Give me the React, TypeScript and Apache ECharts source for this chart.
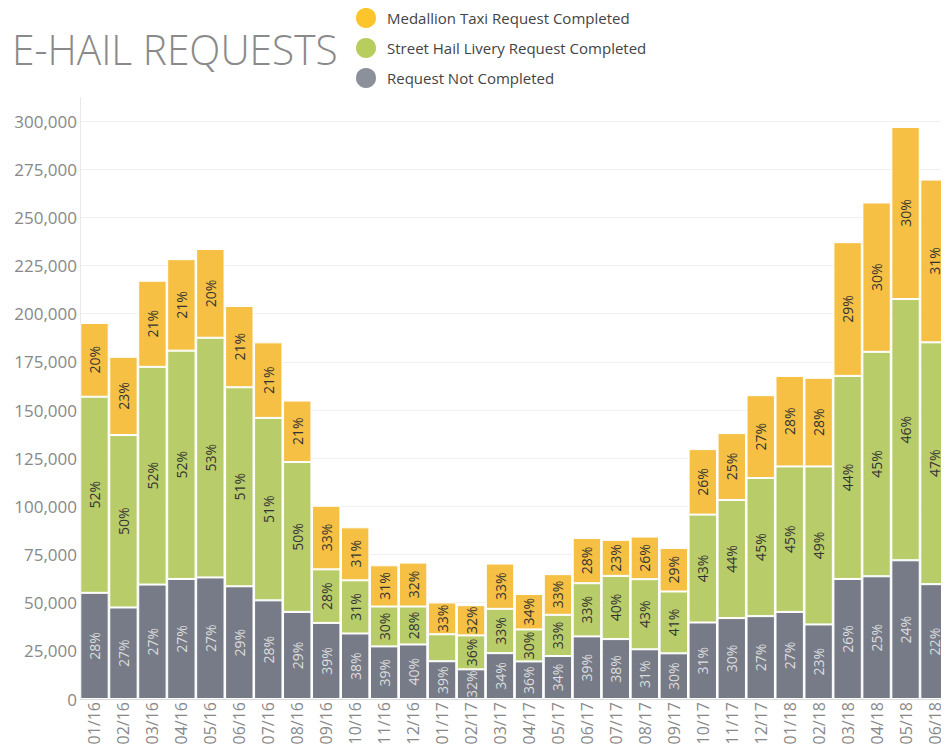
import React, { useEffect, useRef } from "react";
import * as echarts from "echarts";

const months = [
  "01/16", "02/16", "03/16", "04/16", "05/16", "06/16", "07/16", "08/16", "09/16", "10/16",
  "11/16", "12/16", "01/17", "02/17", "03/17", "04/17", "05/17", "06/17", "07/17", "08/17",
  "09/17", "10/17", "11/17", "12/17", "01/18", "02/18", "03/18", "04/18", "05/18", "06/18",
];

const notCompleted = [
  55100, 47500, 59400, 62300, 63100, 58500, 51200, 45200, 39500, 34000,
  27300, 28300, 19600, 15400, 23800, 19500, 22300, 32500, 31100, 25800,
  23700, 39700, 42000, 43000, 45200, 38700, 62300, 63700, 72000, 59600,
];

const streetHail = [
  101800, 89500, 113000, 118500, 124400, 103300, 94700, 77800, 27800, 27600,
  20700, 19700, 14000, 17600, 23000, 16600, 21400, 27600, 32800, 36400,
  32100, 56000, 61300, 71700, 75500, 82000, 105400, 116500, 135600, 125500,
];

const medallion = [
  38300, 40600, 44700, 47500, 46100, 42200, 39200, 31900, 33000, 27500,
  21400, 22800, 16500, 15700, 23500, 18400, 21100, 23500, 18700, 22100,
  22600, 34000, 34700, 43000, 47000, 46000, 69400, 77500, 89300, 84500,
];

const yTicks = [0, 300000, 25000];
const hiddenStreetLabels = ["01/17"];

const titleText = "E-HAIL REQUESTS";
const seriesNames = [
  "Medallion Taxi Request Completed",
  "Street Hail Livery Request Completed",
  "Request Not Completed",
];

export default function App() {
  const ref = useRef<HTMLDivElement>(null);

  useEffect(() => {
    if (!ref.current) return;
    const chart = echarts.init(ref.current, undefined, { renderer: "svg" });
    const totals = months.map((_, i) => notCompleted[i] + streetHail[i] + medallion[i]);
    const pct = (p: any) => Math.round((p.value / totals[p.dataIndex]) * 100) + "%";
    const font = "'Open Sans', 'Noto Sans', sans-serif";

    const labelBase = {
      show: true,
      position: "inside",
      rotate: 90,
      fontSize: 14,
      fontFamily: font,
      formatter: pct,
    };

    const mk = (name: string, vals: number[], color: string, labelColor: string, hidden: string[]) => ({
      name,
      type: "bar",
      stack: "total",
      barCategoryGap: "2%",
      itemStyle: { color, borderColor: "#ffffff", borderWidth: 1 },
      label: { ...labelBase, color: labelColor },
      emphasis: { disabled: true },
      data: vals.map((v, i) =>
        hidden.includes(months[i]) ? { value: v, label: { show: false } } : v
      ),
    });

    chart.setOption({
      animation: false,
      legend: {
        orient: "vertical",
        left: 354,
        top: 6,
        padding: 0,
        icon: "circle",
        itemWidth: 22,
        itemHeight: 22,
        itemGap: 6,
        textStyle: {
          fontFamily: font,
          fontSize: 15,
          color: "#444",
          lineHeight: 22,
          padding: [0, 0, 0, 5],
        },
        data: [
          { name: seriesNames[0], itemStyle: { color: "#FBC52B" } },
          { name: seriesNames[1], itemStyle: { color: "#B7CE5E" } },
          { name: seriesNames[2], itemStyle: { color: "#8B909B" } },
        ],
      },
      graphic: [
        {
          type: "text",
          x: 12,
          y: 48,
          scaleX: 0.945,
          silent: true,
          style: {
            text: titleText,
            fontFamily: font,
            fontWeight: 300,
            fontSize: 43,
            fill: "#8a8a8a",
            verticalAlign: "middle",
            align: "left",
          },
        },
        {
          type: "line",
          shape: { x1: 80.5, y1: 97, x2: 80.5, y2: 121 },
          style: { stroke: "#e8e8e8", lineWidth: 1 },
          silent: true,
        },
      ],
      grid: { left: 80, right: -1, top: 121, bottom: 54, containLabel: false },
      xAxis: {
        type: "category",
        data: months,
        axisLine: { lineStyle: { color: "#dddddd" } },
        axisTick: { show: false },
        axisLabel: {
          rotate: 90,
          interval: 0,
          fontSize: 16,
          fontFamily: font,
          color: "#888888",
          margin: 3,
        },
      },
      yAxis: {
        type: "value",
        min: yTicks[0],
        max: yTicks[1],
        interval: yTicks[2],
        axisLine: { show: true, lineStyle: { color: "#e8e8e8" } },
        axisTick: { show: false },
        splitLine: { lineStyle: { color: "#f0f0f0" } },
        axisLabel: {
          fontSize: 17,
          fontFamily: font,
          color: "#888888",
          margin: 3,
          formatter: (v: number) => v.toLocaleString("en-US"),
        },
      },
      series: [
        mk(seriesNames[2], notCompleted, "#767B87", "#dedede", []),
        mk(seriesNames[1], streetHail, "#B9CC6A", "#333333", hiddenStreetLabels),
        mk(seriesNames[0], medallion, "#F5C043", "#333333", []),
      ],
    });
    return () => chart.dispose();
  }, []);

  return <div ref={ref} style={{ width: 949, height: 753, margin: -8 }} />;
}
